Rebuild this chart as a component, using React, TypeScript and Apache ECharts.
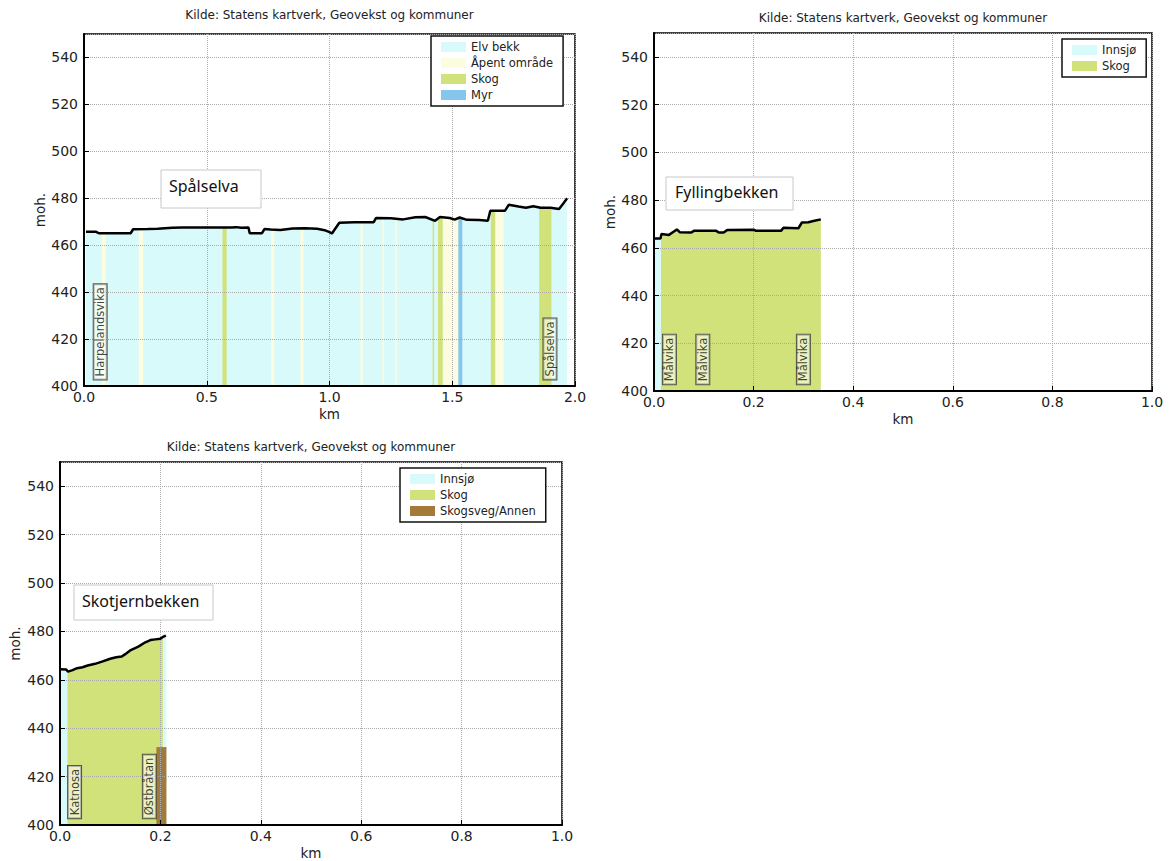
import React, { useEffect, useRef } from 'react';
import * as echarts from 'echarts';

// ---------- data ----------
const SOURCE_TEXT = 'Kilde: Statens kartverk, Geovekst og kommuner';
const Y_LABEL = 'moh.';
const X_LABEL = 'km';

// Chart 1: Spålselva
const title1 = 'Spålselva';
const profile1: number[][] = [
  [0.008, 465.7], [0.05, 465.7], [0.06, 465.1], [0.08, 465.1], [0.19, 465.1], [0.2, 466.8],
  [0.26, 466.9], [0.3, 467.0], [0.36, 467.4], [0.4, 467.5], [0.5, 467.5], [0.6, 467.5],
  [0.62, 467.7], [0.64, 467.4], [0.67, 467.5], [0.675, 465.1], [0.725, 465.1], [0.735, 466.9],
  [0.76, 466.7], [0.8, 466.5], [0.85, 467.1], [0.9, 467.2], [0.95, 467.0], [0.98, 466.4],
  [1.0, 465.6], [1.01, 465.0], [1.04, 469.6], [1.1, 469.8], [1.18, 469.8], [1.19, 471.6],
  [1.25, 471.5], [1.3, 471.0], [1.35, 471.9], [1.39, 472.0], [1.43, 470.4], [1.45, 472.0],
  [1.49, 471.6], [1.51, 470.9], [1.53, 471.8], [1.56, 470.8], [1.61, 470.7], [1.645, 470.4],
  [1.655, 474.7], [1.715, 474.7], [1.73, 477.2], [1.77, 476.5], [1.8, 476.0], [1.83, 476.6],
  [1.86, 476.0], [1.9, 476.0], [1.935, 475.4], [1.95, 477.5], [1.968, 480.0],
];
const apent1: number[][] = [
  [0.073, 0.088, 465.5], [0.223, 0.241, 466.9], [0.763, 0.775, 466.7], [0.882, 0.894, 467.2],
  [1.126, 1.135, 469.8], [1.215, 1.221, 471.5], [1.268, 1.274, 471.3], [1.461, 1.525, 471.5],
  [1.675, 1.709, 474.7],
];
const skog1: number[][] = [
  [0.564, 0.581, 467.5], [1.42, 1.426, 470.6], [1.442, 1.461, 471.5], [1.657, 1.675, 474.7],
  [1.854, 1.904, 476.0],
];
const myr1: number[][] = [[1.525, 1.541, 471.6]];
const placeNames1 = ['Harpelandsvika', 'Spålselva'];
const placeKm1 = [0.068, 1.9];
const legend1 = ['Elv bekk', 'Åpent område', 'Skog', 'Myr'];

// Chart 2: Fyllingbekken
const title2 = 'Fyllingbekken';
const profile2: number[][] = [
  [0, 463.9], [0.013, 463.9], [0.015, 465.8], [0.03, 465.4], [0.04, 466.8], [0.046, 467.7],
  [0.052, 466.5], [0.075, 466.4], [0.08, 467.1], [0.125, 467.1], [0.13, 466.4], [0.14, 466.4],
  [0.147, 467.5], [0.2, 467.6], [0.205, 467.1], [0.255, 467.1], [0.26, 468.4], [0.29, 468.2],
  [0.297, 470.6], [0.31, 470.7], [0.32, 471.2], [0.335, 471.9],
];
const innsjo2: number[][] = [[0, 0.014, 463.9]];
const placeNames2 = ['Målvika', 'Målvika', 'Målvika'];
const placeKm2 = [0.032, 0.099, 0.301];
const legend2 = ['Innsjø', 'Skog'];

// Chart 3: Skotjernbekken
const title3 = 'Skotjernbekken';
const profile3: number[][] = [
  [0, 464.4], [0.012, 464.3], [0.016, 463.4], [0.025, 464.0], [0.034, 464.8], [0.045, 465.2],
  [0.055, 465.9], [0.07, 466.6], [0.085, 467.6], [0.1, 468.7], [0.112, 469.3], [0.123, 469.6],
  [0.13, 470.6], [0.141, 472.3], [0.156, 473.7], [0.17, 475.5], [0.18, 476.4], [0.19, 476.7],
  [0.2, 477.0], [0.205, 477.7], [0.211, 478.3],
];
const innsjo3: number[][] = [[0, 0.015, 464.3], [0.205, 0.212, 477.9]];
const veg3: number[][] = [[0.192, 0.212, 432.2]];
const placeNames3 = ['Katnosa', 'Østbråtan'];
const placeKm3 = [0.03, 0.179];
const legend3 = ['Innsjø', 'Skog', 'Skogsveg/Annen'];

const Y_MIN = 400;
const Y_MAX = 550;

// ---------- styles ----------
const COLORS: Record<string, string> = {
  'Elv bekk': '#d9fafa',
  'Åpent område': '#fcfce0',
  Skog: '#d2e27b',
  Myr: '#86c5ec',
  'Innsjø': '#d9fafa',
  'Skogsveg/Annen': '#a47a3b',
};
const MPL_FONT = '"DejaVu Sans", sans-serif';
const BOX_FONT = '"Noto Sans", sans-serif';

const GRIDS = [
  { left: 84, top: 34, width: 491, height: 352 },
  { left: 654, top: 33, width: 498, height: 358 },
  { left: 60, top: 462, width: 502, height: 364 },
];

function rectSeries(name: string, data: number[][], gi: number) {
  const color = COLORS[name];
  return {
    type: 'custom',
    name,
    xAxisIndex: gi,
    yAxisIndex: gi,
    data,
    encode: { x: [0, 1], y: 2 },
    itemStyle: { color },
    z: 2,
    silent: true,
    renderItem: (_p: any, api: any) => {
      const a = api.coord([api.value(0), api.value(2)]);
      const b = api.coord([api.value(1), Y_MIN]);
      return {
        type: 'rect',
        shape: { x: a[0], y: a[1], width: b[0] - a[0], height: b[1] - a[1] },
        style: { fill: color },
      };
    },
  };
}

function areaSeries(name: string, data: number[][], gi: number) {
  const color = COLORS[name];
  return {
    type: 'line',
    name,
    xAxisIndex: gi,
    yAxisIndex: gi,
    data,
    symbol: 'none',
    showSymbol: false,
    lineStyle: { width: 0, color },
    itemStyle: { color },
    areaStyle: { color, opacity: 1, origin: 'start' },
    z: 1,
    silent: true,
  };
}

function profileSeries(data: number[][], gi: number) {
  return {
    type: 'line',
    xAxisIndex: gi,
    yAxisIndex: gi,
    data,
    symbol: 'none',
    showSymbol: false,
    lineStyle: { width: 2.5, color: '#000' },
    z: 5,
    silent: true,
  };
}

function placeSeries(names: string[], km: number[], gi: number) {
  return {
    type: 'scatter',
    xAxisIndex: gi,
    yAxisIndex: gi,
    data: km.map((k, i) => ({ value: [k, 402.6], name: names[i] })),
    symbolSize: 1,
    itemStyle: { color: 'rgba(0,0,0,0)' },
    z: 6,
    silent: true,
    label: {
      show: true,
      formatter: '{b}',
      position: [0, 0],
      align: 'left',
      verticalAlign: 'middle',
      rotate: 90,
      fontSize: 11.5,
      fontFamily: MPL_FONT,
      color: '#111',
      backgroundColor: 'rgba(255,255,245,0.7)',
      borderColor: '#333',
      borderWidth: 1,
      padding: [1, 3, 0, 3],
    },
  };
}

function legendOf(names: string[], left: number, top: number) {
  return {
    show: true,
    orient: 'vertical',
    left,
    top,
    icon: 'rect',
    itemWidth: 25,
    itemHeight: 10,
    itemGap: 4,
    padding: [5, 10, 5, 10],
    borderColor: '#111',
    borderWidth: 1.5,
    backgroundColor: '#fff',
    selectedMode: false,
    z: 10,
    itemStyle: { borderWidth: 0 },
    textStyle: { fontSize: 11.5, fontFamily: MPL_FONT, color: '#222', lineHeight: 12 },
    data: names.map((n) => ({ name: n, itemStyle: { color: COLORS[n], borderWidth: 0 } })),
  };
}

function xAxisOf(gi: number, max: number, interval: number) {
  return {
    type: 'value',
    gridIndex: gi,
    min: 0,
    max,
    interval,
    z: 3,
    name: X_LABEL,
    nameLocation: 'middle',
    nameGap: 21,
    nameTextStyle: { fontSize: 13.5, fontFamily: MPL_FONT, color: '#222' },
    axisLine: { show: true, onZero: false, lineStyle: { color: '#000', width: 2 } },
    axisTick: { show: true, inside: true, length: 5, lineStyle: { color: '#000' } },
    axisLabel: {
      fontSize: 14,
      fontFamily: MPL_FONT,
      color: '#222',
      margin: 4,
      formatter: (v: number) => v.toFixed(1),
    },
    splitLine: { show: true, lineStyle: { type: 'dotted', color: '#aaa', width: 1 } },
  };
}

function yAxisOf(gi: number, gap: number) {
  return {
    type: 'value',
    gridIndex: gi,
    min: Y_MIN,
    max: Y_MAX,
    interval: 20,
    z: 3,
    name: Y_LABEL,
    nameLocation: 'middle',
    nameGap: gap,
    nameTextStyle: { fontSize: 13.5, fontFamily: MPL_FONT, color: '#222' },
    axisLine: { show: true, lineStyle: { color: '#000', width: 2 } },
    axisTick: { show: true, inside: true, length: 5, lineStyle: { color: '#000' } },
    axisLabel: { fontSize: 14, fontFamily: MPL_FONT, color: '#222', margin: 6, showMaxLabel: false },
    splitLine: { show: true, lineStyle: { type: 'dotted', color: '#aaa', width: 1 } },
  };
}

function titleText(x: number, y: number) {
  return {
    type: 'text',
    x,
    y,
    z: 20,
    style: {
      text: SOURCE_TEXT,
      font: `12px ${MPL_FONT}`,
      fill: '#222',
      align: 'center',
      verticalAlign: 'middle',
    },
  };
}

function nameBox(text: string, x: number, y: number, w: number, h: number, tx: number, ty: number) {
  return [
    {
      type: 'rect',
      z: 20,
      shape: { x, y, width: w, height: h },
      style: { fill: '#fff', stroke: '#c8c8c8', lineWidth: 1 },
    },
    {
      type: 'text',
      z: 21,
      x: tx,
      y: ty,
      style: { text, font: `16px ${BOX_FONT}`, fill: '#111', align: 'left', verticalAlign: 'middle' },
    },
  ];
}

export default function App() {
  const ref = useRef<HTMLDivElement>(null);

  useEffect(() => {
    if (!ref.current) return;
    const chart = echarts.init(ref.current, undefined, { renderer: 'svg' });
    const option: any = {
      animation: false,
      backgroundColor: '#fff',
      grid: GRIDS.map((g) => ({
        ...g,
        show: true,
        borderColor: '#000',
        borderWidth: 1.5,
        backgroundColor: '#fff',
        containLabel: false,
      })),
      xAxis: [xAxisOf(0, 2, 0.5), xAxisOf(1, 1, 0.2), xAxisOf(2, 1, 0.2)],
      yAxis: [yAxisOf(0, 35), yAxisOf(1, 37), yAxisOf(2, 38)],
      legend: [legendOf(legend1, 431, 36), legendOf(legend2, 1062, 39), legendOf(legend3, 400, 468)],
      graphic: [
        titleText(GRIDS[0].left + GRIDS[0].width / 2, 15),
        titleText(GRIDS[1].left + GRIDS[1].width / 2, 18),
        titleText(GRIDS[2].left + GRIDS[2].width / 2, 447),
        ...nameBox(title1, 161, 170, 100, 38, 169, 186),
        ...nameBox(title2, 666, 177, 127, 33, 675, 192),
        ...nameBox(title3, 74, 585, 139, 35, 82, 601),
      ],
      series: [
        // chart 1
        areaSeries('Elv bekk', profile1, 0),
        rectSeries('Åpent område', apent1, 0),
        rectSeries('Skog', skog1, 0),
        rectSeries('Myr', myr1, 0),
        profileSeries(profile1, 0),
        placeSeries(placeNames1, placeKm1, 0),
        // chart 2
        areaSeries('Skog', profile2, 1),
        rectSeries('Innsjø', innsjo2, 1),
        profileSeries(profile2, 1),
        placeSeries(placeNames2, placeKm2, 1),
        // chart 3
        areaSeries('Skog', profile3, 2),
        rectSeries('Innsjø', innsjo3, 2),
        rectSeries('Skogsveg/Annen', veg3, 2),
        profileSeries(profile3, 2),
        placeSeries(placeNames3, placeKm3, 2),
      ],
    };
    chart.setOption(option);
    return () => chart.dispose();
  }, []);

  return (
    <div
      ref={ref}
      style={{ position: 'fixed', left: 0, top: 0, width: 1170, height: 861, background: '#fff' }}
    />
  );
}
